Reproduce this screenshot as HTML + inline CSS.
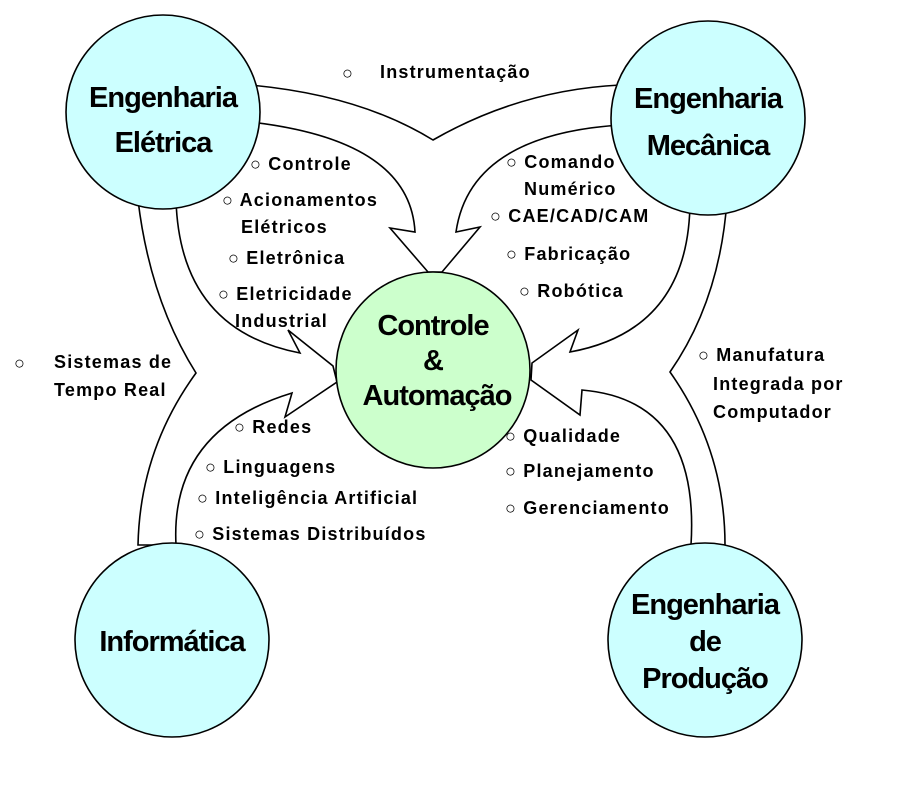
<!DOCTYPE html>
<html><head><meta charset="utf-8"><style>
html,body{margin:0;padding:0;background:#fff;}
svg{display:block}
text{font-family:"Liberation Sans",sans-serif;font-weight:bold;fill:#000}
.s{font-size:18px;letter-spacing:1.2px}
.b{font-size:29px;letter-spacing:-1px}
</style></head><body>
<svg width="912" height="798" viewBox="0 0 912 798" xmlns="http://www.w3.org/2000/svg">
<g fill="#fff" stroke="#000" stroke-width="1.6" stroke-linejoin="miter">
<path d="M250,85 Q360,95 433,140 Q520,90 620,85 L620,125 Q470,135 456,232 L480,227 L442,272 L428,272 L390,228 L415,232 Q410,140 250,122 Z"/>
<path d="M138,200 Q150,300 196,373 Q140,450 138,545 L176,545 Q170,430 292,393 L285,417 L337,382 L333,366 L288,330 L300,353 Q180,330 176,200 Z"/>
<path d="M727,200 Q720,300 670,372 Q725,450 725,545 L691,545 Q700,400 582,390 L580,415 L531,380 L532,363 L578,330 L570,352 Q690,330 690,200 Z"/>
</g>
<g stroke="#000" stroke-width="1.6">
<circle cx="163" cy="112" r="97" fill="#ccffff"/>
<circle cx="708" cy="118" r="97" fill="#ccffff"/>
<circle cx="172" cy="640" r="97" fill="#ccffff"/>
<circle cx="705" cy="640" r="97" fill="#ccffff"/>
<ellipse cx="433" cy="370" rx="97" ry="98" fill="#ccffcc"/>
</g>
<g class="b" text-anchor="middle">
<text x="163" y="107">Engenharia</text><text x="163" y="152">Elétrica</text>
<text x="708" y="108">Engenharia</text><text x="708" y="155">Mecânica</text>
<text x="172" y="651">Informática</text>
<text x="705" y="614">Engenharia</text><text x="705" y="651">de</text><text x="705" y="688">Produção</text>
<text x="433" y="335">Controle</text><text x="433" y="370">&amp;</text><text x="437" y="405">Automação</text>
</g>
<g class="s">
<text x="342" y="79">○</text><text x="380" y="78">Instrumentação</text>
<text x="250" y="170">○ Controle</text>
<text x="222" y="206">○ Acionamentos</text><text x="241" y="233">Elétricos</text>
<text x="228" y="264">○ Eletrônica</text>
<text x="218" y="300">○ Eletricidade</text><text x="235" y="327">Industrial</text>
<text x="506" y="168">○ Comando</text><text x="524" y="195">Numérico</text>
<text x="490" y="222">○ CAE/CAD/CAM</text>
<text x="506" y="260">○ Fabricação</text>
<text x="519" y="297">○ Robótica</text>
<text x="14" y="369">○</text><text x="54" y="368">Sistemas de</text><text x="54" y="396">Tempo Real</text>
<text x="698" y="361">○ Manufatura</text><text x="713" y="390">Integrada por</text><text x="713" y="418">Computador</text>
<text x="234" y="433">○ Redes</text>
<text x="205" y="473">○ Linguagens</text>
<text x="197" y="504">○ Inteligência Artificial</text>
<text x="194" y="540">○ Sistemas Distribuídos</text>
<text x="505" y="442">○ Qualidade</text>
<text x="505" y="477">○ Planejamento</text>
<text x="505" y="514">○ Gerenciamento</text>
</g>
</svg>
</body></html>
